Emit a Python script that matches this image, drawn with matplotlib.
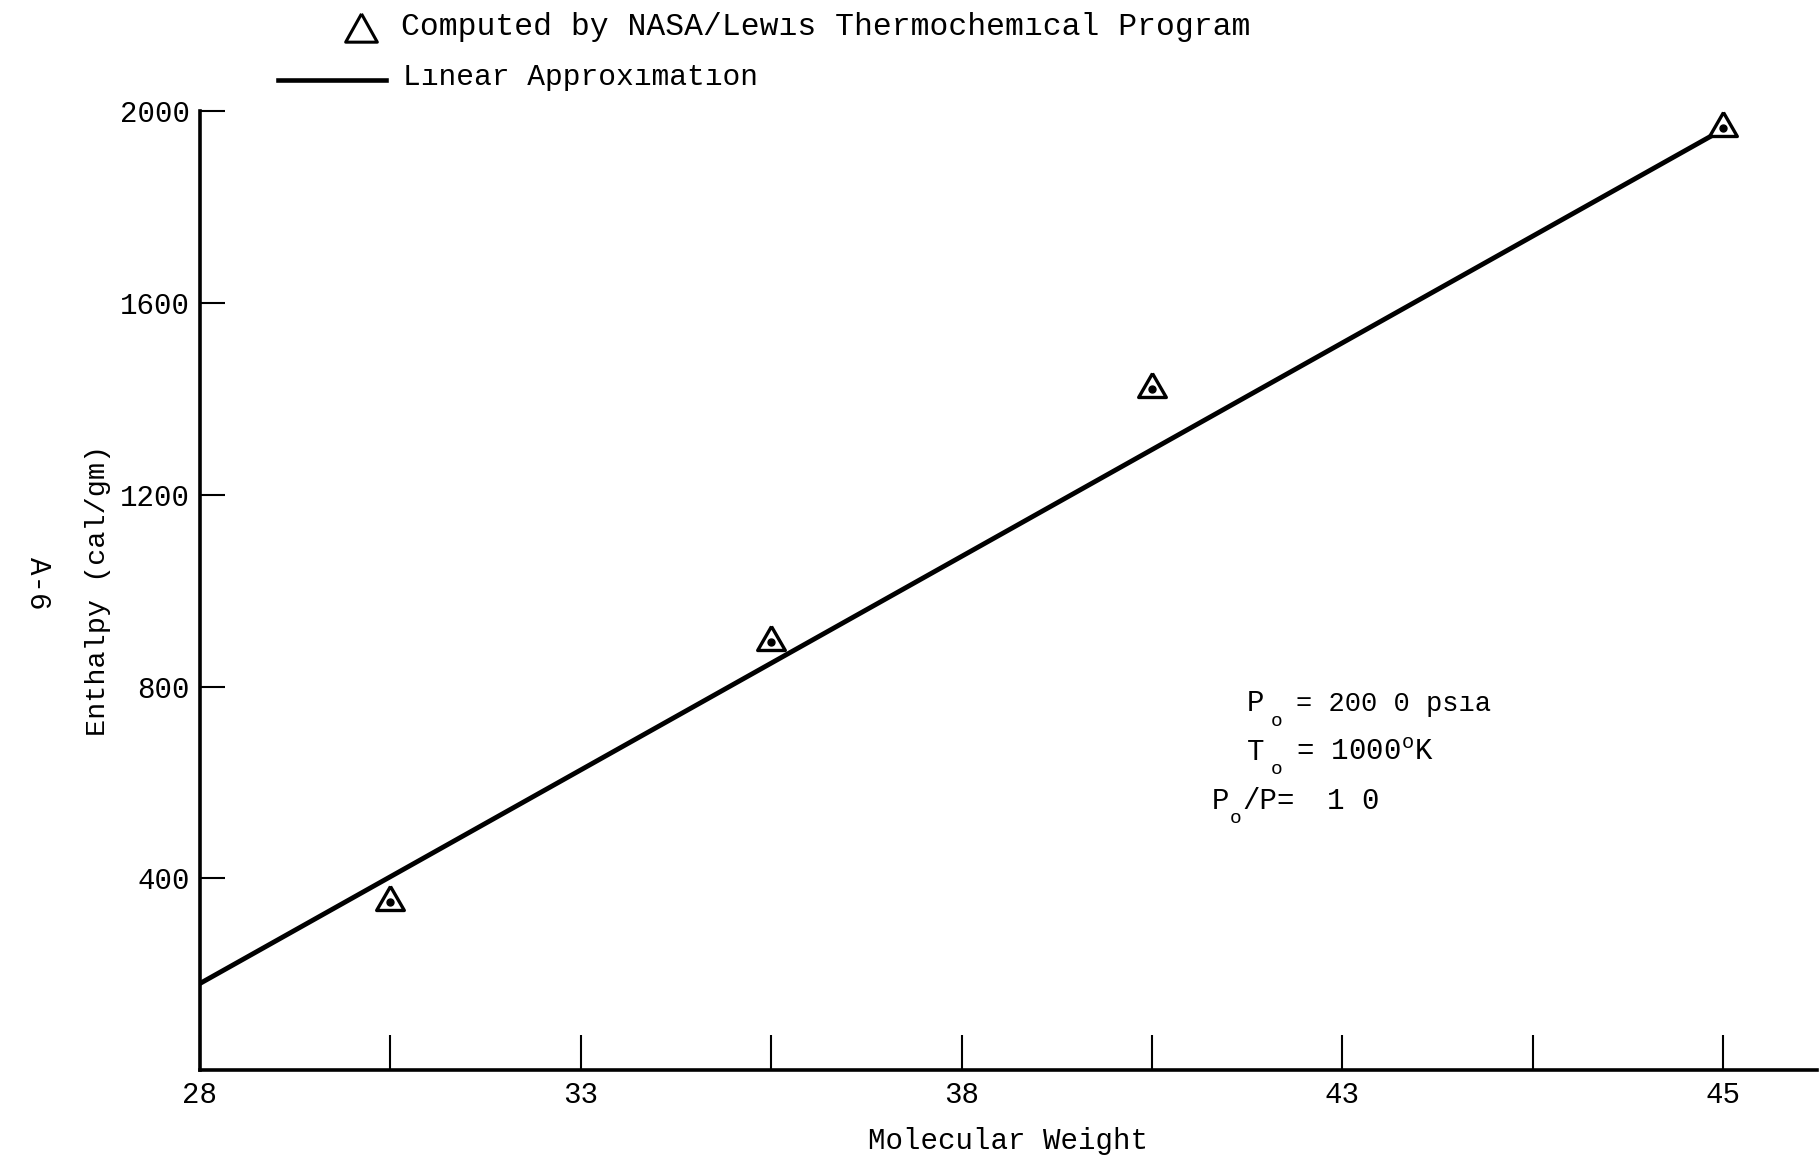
import matplotlib
matplotlib.use("Agg")
import matplotlib.pyplot as plt

# Valores
peso_molecular = [30.5, 35.5, 40.5, 48.0]
entalpia = [350, 892, 1420, 1965]

# Aproximación lineal (extremos de la recta)
peso_recta = [28.0, 47.9]
entalpia_recta = [180, 1954]

xticks_mayores = [28, 33, 38, 43, 48]
xticks_etiquetas = ["28", "33", "38", "43", "45"]
xticks_menores = [30.5, 35.5, 40.5, 45.5]
yticks = [400, 800, 1200, 1600, 2000]

plt.rcParams["font.family"] = ["Liberation Mono", "DejaVu Sans Mono"]
plt.rcParams["mathtext.fontset"] = "custom"
plt.rcParams["mathtext.rm"] = "Liberation Mono"

fig = plt.figure(figsize=(18.19, 11.59), dpi=100)
ax = fig.add_axes([0.1097, 0.0768, 0.8893, 0.8271])

# triángulo con el punto en el centroide
tri = [(0, 1), (-0.866, -0.5), (0.866, -0.5), (0, 1)]

ax.plot(peso_recta, entalpia_recta, color="black", lw=3.5, solid_capstyle="butt")
ax.plot(peso_molecular, entalpia, linestyle="none", marker=tri, markersize=23,
        markerfacecolor="white", markeredgecolor="black", markeredgewidth=2.4,
        clip_on=False, zorder=3)
ax.plot(peso_molecular, entalpia, linestyle="none", marker="o", markersize=5,
        color="black", clip_on=False, zorder=4)

ax.set_xlim(28, 49.23)
ax.set_ylim(0, 2000)

ax.spines["top"].set_visible(False)
ax.spines["right"].set_visible(False)
ax.spines["left"].set_linewidth(2.6)
ax.spines["bottom"].set_linewidth(2.6)

ax.set_xticks(xticks_mayores)
ax.set_xticklabels(xticks_etiquetas)
ax.set_xticks(xticks_menores, minor=True)
ax.set_yticks(yticks)
ax.tick_params(axis="x", which="both", direction="in", length=25, width=1.5,
               labelsize=21, pad=8)
ax.tick_params(axis="y", direction="in", length=18, width=1.5, labelsize=21, pad=7)

ax.set_xlabel("Molecular Weight", fontsize=21, labelpad=13)
ax.set_ylabel("Enthalpy (cal/gm)", fontsize=20.5, labelpad=6)

# leyenda dibujada a mano, como en el original
ax.plot([0.1985], [0.9745], transform=fig.transFigure,
        marker=[(0, 1), (-0.95, -0.7), (0.95, -0.7), (0, 1)],
        markersize=24, markerfacecolor="white", markeredgecolor="black",
        markeredgewidth=2.2, clip_on=False)
fig.text(0.2205, 0.9695, "Computed by NASA/Lew\u0131s Thermochem\u0131cal Program",
         fontsize=22.6, va="baseline")
ax.plot([0.153, 0.212], [0.9312, 0.9312], transform=fig.transFigure, color="black",
        lw=3.3, clip_on=False)
fig.text(0.2215, 0.9265, "L\u0131near Approx\u0131mat\u0131on", fontsize=21.3, va="baseline")

# condiciones
fig.text(0.6855, 0.3865, "P", fontsize=21, va="baseline")
fig.text(0.6985, 0.3740, "o", fontsize=14, va="baseline")
fig.text(0.7125, 0.3865, "= 200 0 ps\u0131a", fontsize=19.5, va="baseline")

fig.text(0.6855, 0.3443, "T", fontsize=21, va="baseline")
fig.text(0.6985, 0.3320, "o", fontsize=14, va="baseline")
fig.text(0.7125, 0.3443, "= 1000$^\\mathregular{o}$K", fontsize=21, va="baseline")

fig.text(0.6663, 0.3024, "P", fontsize=21, va="baseline")
fig.text(0.6762, 0.2900, "o", fontsize=14, va="baseline")
fig.text(0.6828, 0.3024, "/P=", fontsize=21, va="baseline")
fig.text(0.7295, 0.3024, "1 0", fontsize=21, va="baseline")

fig.text(0.021, 0.497, "A-6", fontsize=21, rotation=270, ha="center", va="center")

fig.savefig("out.png", dpi=100, facecolor="white")
